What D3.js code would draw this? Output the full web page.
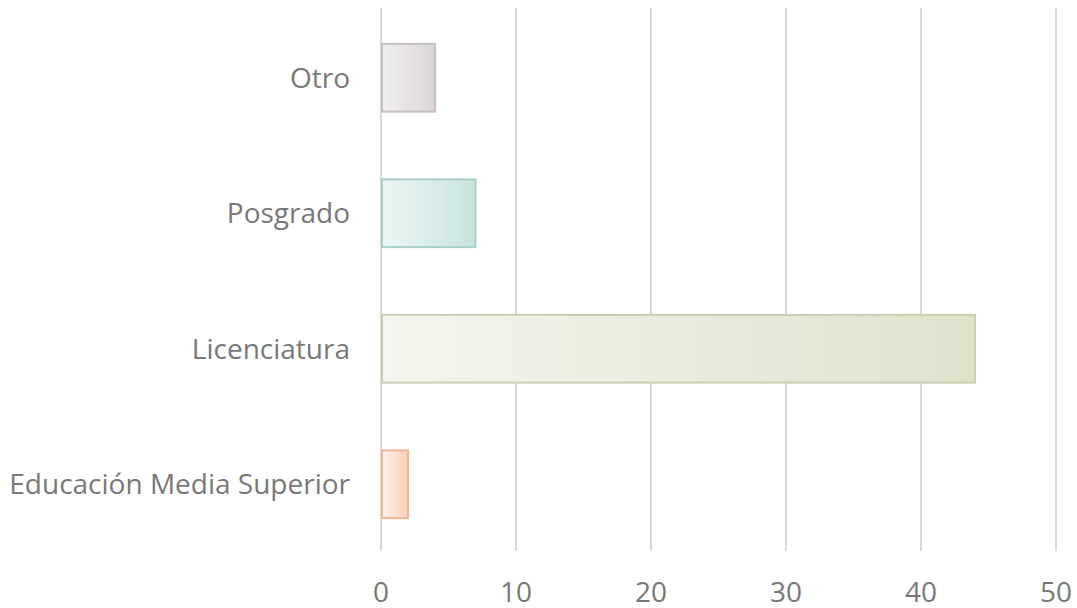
<!DOCTYPE html>
<html>
<head>
<meta charset="utf-8">
<script src="https://cdn.jsdelivr.net/npm/d3@7"></script>
<style>
  body { margin: 0; background: #fff; }
  svg text { font-family: "Open Sans", sans-serif; fill: #787878; }
</style>
</head>
<body>
<svg width="1077" height="608"></svg>
<script>
const categories = ["Otro", "Posgrado", "Licenciatura", "Educación Media Superior"];
const values = [4, 7, 44, 2];
const ticks = [0, 10, 20, 30, 40, 50];
// left/right gradient stops and outline per bar
const fills = [
  ["#f0eeee", "#dbd5d6", "#c9bfc2"],
  ["#ecf6f5", "#c8e2dc", "#a9d0c8"],
  ["#f4f5ee", "#dee2cb", "#c9d0b1"],
  ["#fff2ec", "#fdcdb7", "#f4b595"]
];

const svg = d3.select("svg");
const margin = ({top: 10, right: 21, bottom: 56, left: 381});
const width = 1077;
const height = 608;

const x = d3.scaleLinear()
    .domain([0, 50])
    .range([margin.left, width - margin.right]);
const y = d3.scaleBand()
    .domain(categories)
    .range([margin.top, height - margin.bottom])
    .paddingInner(0.5)
    .paddingOuter(0.25);

const defs = svg.append("defs");
fills.forEach((f, i) => {
  const g = defs.append("linearGradient")
      .attr("id", "grad" + i)
      .attr("x1", "0%").attr("x2", "100%").attr("y1", "0%").attr("y2", "0%");
  g.append("stop").attr("offset", "0%").attr("stop-color", f[0]);
  g.append("stop").attr("offset", "100%").attr("stop-color", f[1]);
});

// gridlines
svg.append("g")
  .selectAll("line")
  .data(ticks)
  .join("line")
    .attr("x1", d => x(d))
    .attr("x2", d => x(d))
    .attr("y1", 8)
    .attr("y2", height - margin.bottom - 1)
    .attr("stroke", "#d9d9d9")
    .attr("stroke-width", 2);

// bars
svg.append("g")
  .selectAll("rect")
  .data(values)
  .join("rect")
    .attr("x", x(0) + 1)
    .attr("y", (d, i) => y(categories[i]))
    .attr("width", d => x(d) - x(0) - 1)
    .attr("height", y.bandwidth())
    .attr("fill", (d, i) => `url(#grad${i})`)
    .attr("stroke", (d, i) => fills[i][2])
    .attr("stroke-width", 2);

// x tick labels
svg.append("g")
  .selectAll("text")
  .data(ticks)
  .join("text")
    .attr("x", d => x(d))
    .attr("y", 602)
    .attr("text-anchor", "middle")
    .attr("font-size", 28)
    .text(d => d);

// category labels
svg.append("g")
  .selectAll("text")
  .data(categories)
  .join("text")
    .attr("x", 350)
    .attr("y", d => y(d) + y.bandwidth() / 2)
    .attr("dy", "0.35em")
    .attr("text-anchor", "end")
    .attr("font-size", 28)
    .text(d => d);
</script>
</body>
</html>
